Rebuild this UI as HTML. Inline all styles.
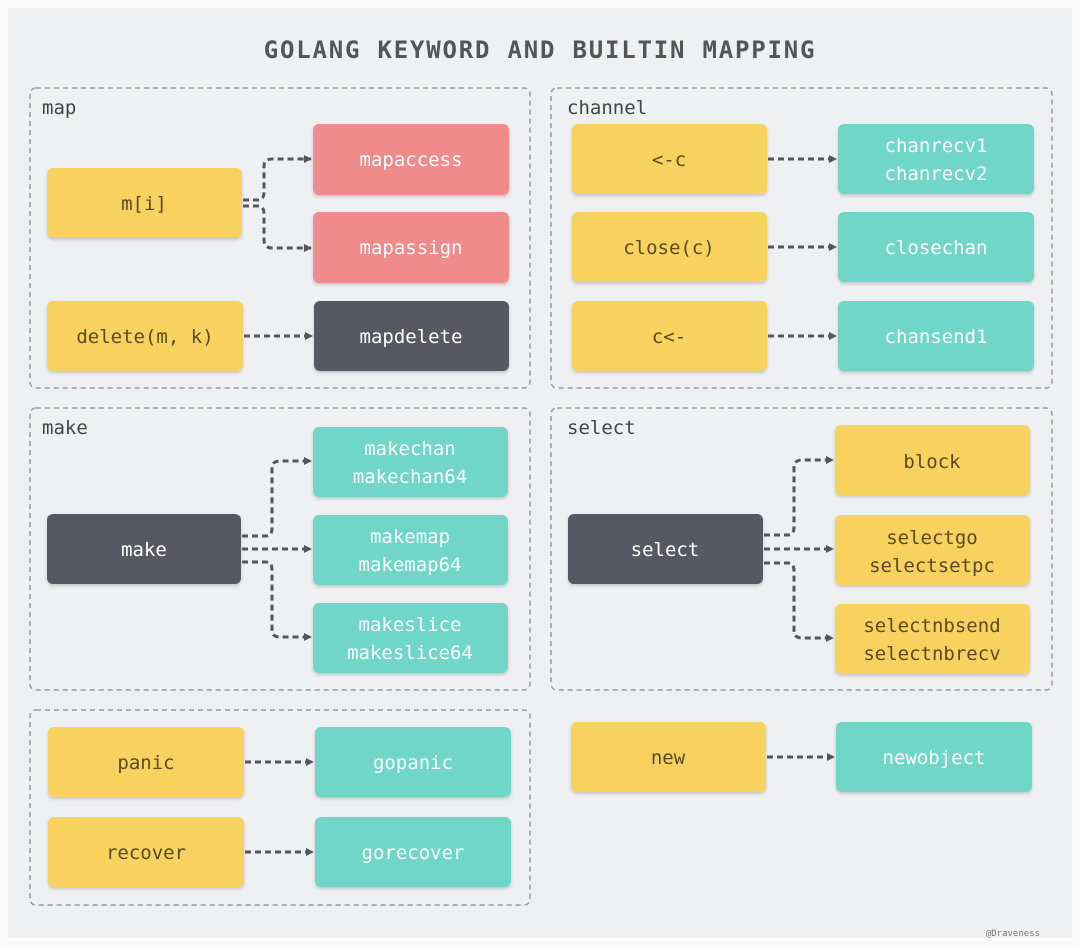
<!DOCTYPE html>
<html><head><meta charset="utf-8"><style>
html,body{margin:0;padding:0;background:#fafafa;}
svg{display:block;}
text{font-family:"DejaVu Sans Mono","Liberation Mono",monospace;}
</style></head><body>
<svg width="1080" height="948" viewBox="0 0 1080 948" xmlns="http://www.w3.org/2000/svg">
<defs>
<marker id="a" markerWidth="8" markerHeight="8" refX="7" refY="4" orient="auto" markerUnits="userSpaceOnUse"><path d="M0,0 L8,4 L0,8 z" fill="#55555f"/></marker>
<filter id="s" x="-5%" y="-5%" width="110%" height="120%"><feDropShadow dx="0" dy="2" stdDeviation="1.5" flood-color="#000" flood-opacity="0.18"/></filter>
</defs>
<rect x="0" y="0" width="1080" height="948" fill="#fafafa"/>
<rect x="8" y="8" width="1064" height="930" fill="#eff0f2"/>
<text x="540" y="58" font-size="24" font-weight="bold" fill="#555" text-anchor="middle" letter-spacing="1.8">GOLANG KEYWORD AND BUILTIN MAPPING</text>
<g fill="none" stroke="#999" stroke-width="1.5" stroke-dasharray="5,4">
<rect x="30" y="88" width="500" height="300" rx="6"/>
<rect x="551" y="88" width="501" height="300" rx="6"/>
<rect x="30" y="408" width="500" height="282" rx="6"/>
<rect x="551" y="408" width="501" height="282" rx="6"/>
<rect x="30" y="710" width="500" height="195" rx="6"/>
</g>
<g font-size="19" fill="#444">
<text x="42" y="114">map</text>
<text x="567" y="114">channel</text>
<text x="42" y="434">make</text>
<text x="567" y="434">select</text>
</g>
<g filter="url(#s)">
<rect x="47" y="168" width="195" height="70" rx="6" fill="#f8d25e"/>
<rect x="313" y="124" width="196" height="71" rx="6" fill="#f08b8b"/>
<rect x="313" y="212" width="196" height="71" rx="6" fill="#f08b8b"/>
<rect x="47" y="301" width="196" height="70" rx="6" fill="#f8d25e"/>
<rect x="314" y="301" width="195" height="70" rx="6" fill="#585864"/>
<rect x="572" y="124" width="195" height="70" rx="6" fill="#f8d25e"/>
<rect x="838" y="124" width="196" height="70" rx="6" fill="#6fd6c8"/>
<rect x="572" y="212" width="195" height="70" rx="6" fill="#f8d25e"/>
<rect x="838" y="212" width="196" height="70" rx="6" fill="#6fd6c8"/>
<rect x="572" y="301" width="195" height="70" rx="6" fill="#f8d25e"/>
<rect x="838" y="301" width="196" height="70" rx="6" fill="#6fd6c8"/>
<rect x="47" y="514" width="194" height="70" rx="6" fill="#585864"/>
<rect x="313" y="427" width="195" height="70" rx="6" fill="#6fd6c8"/>
<rect x="313" y="515" width="195" height="70" rx="6" fill="#6fd6c8"/>
<rect x="313" y="603" width="195" height="70" rx="6" fill="#6fd6c8"/>
<rect x="568" y="514" width="195" height="70" rx="6" fill="#585864"/>
<rect x="835" y="425" width="195" height="70" rx="6" fill="#f8d25e"/>
<rect x="835" y="515" width="195" height="70" rx="6" fill="#f8d25e"/>
<rect x="835" y="604" width="195" height="70" rx="6" fill="#f8d25e"/>
<rect x="48" y="727" width="196" height="70" rx="6" fill="#f8d25e"/>
<rect x="315" y="727" width="196" height="70" rx="6" fill="#6fd6c8"/>
<rect x="48" y="817" width="196" height="70" rx="6" fill="#f8d25e"/>
<rect x="315" y="817" width="196" height="70" rx="6" fill="#6fd6c8"/>
<rect x="571" y="722" width="195" height="70" rx="6" fill="#f8d25e"/>
<rect x="836" y="722" width="196" height="70" rx="6" fill="#6fd6c8"/>
</g>
<g font-size="19" text-anchor="middle">
<g fill="#5a4a20">
<text x="144" y="210">m[i]</text>
<text x="145" y="343">delete(m, k)</text>
<text x="669" y="166">&lt;-c</text>
<text x="669" y="254">close(c)</text>
<text x="669" y="343">c&lt;-</text>
<text x="932" y="468">block</text>
<text x="932" y="544">selectgo</text>
<text x="932" y="572">selectsetpc</text>
<text x="932" y="632">selectnbsend</text>
<text x="932" y="660">selectnbrecv</text>
<text x="146" y="769">panic</text>
<text x="146" y="859">recover</text>
<text x="668" y="764">new</text>
</g>
<g fill="#fff">
<text x="411" y="166">mapaccess</text>
<text x="411" y="254">mapassign</text>
<text x="411" y="343">mapdelete</text>
<text x="936" y="152">chanrecv1</text>
<text x="936" y="180">chanrecv2</text>
<text x="936" y="254">closechan</text>
<text x="936" y="343">chansend1</text>
<text x="144" y="556">make</text>
<text x="410" y="455">makechan</text>
<text x="410" y="483">makechan64</text>
<text x="410" y="543">makemap</text>
<text x="410" y="571">makemap64</text>
<text x="410" y="631">makeslice</text>
<text x="410" y="659">makeslice64</text>
<text x="665" y="556">select</text>
<text x="413" y="769">gopanic</text>
<text x="413" y="859">gorecover</text>
<text x="934" y="764">newobject</text>
</g>
</g>
<g fill="none" stroke="#55555f" stroke-width="3" stroke-dasharray="6,4" marker-end="url(#a)">
<path d="M243,200 L258,200 Q264,200 264,192 L264,166 Q264,159 272,159 L311,159"/>
<path d="M243,206 L258,206 Q264,206 264,214 L264,240 Q264,248 272,248 L311,248"/>
<path d="M244,336 L312,336"/>
<path d="M768,159 L836,159"/>
<path d="M768,247 L836,247"/>
<path d="M768,336 L836,336"/>
<path d="M242,536 L266,536 Q272,536 272,528 L272,468 Q272,461 280,461 L311,461"/>
<path d="M242,549 L311,549"/>
<path d="M242,562 L266,562 Q272,562 272,570 L272,630 Q272,637 280,637 L311,637"/>
<path d="M764,535 L788,535 Q794,535 794,527 L794,468 Q794,460 802,460 L833,460"/>
<path d="M764,549 L833,549"/>
<path d="M764,563 L788,563 Q794,563 794,571 L794,630 Q794,638 802,638 L833,638"/>
<path d="M245,762 L313,762"/>
<path d="M245,852 L313,852"/>
<path d="M767,757 L834,757"/>
</g>
<text x="1040" y="936" font-size="9" fill="#777" text-anchor="end">@Draveness</text>
</svg>
</body></html>
